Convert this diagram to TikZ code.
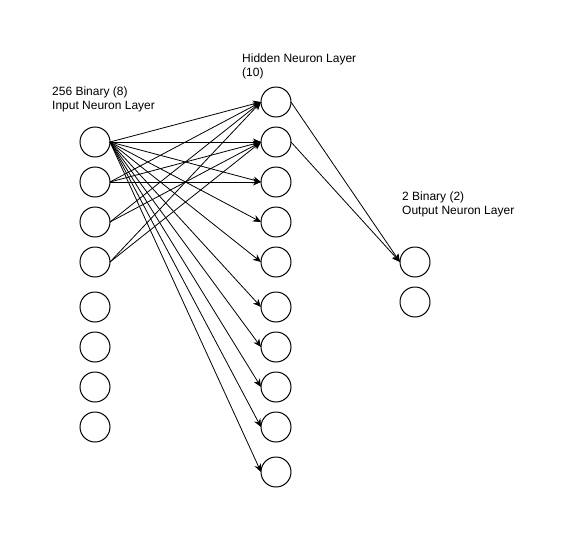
\documentclass[tikz,border=0pt]{standalone}
\usepackage{fontspec}
\setmainfont{Liberation Sans}
\usetikzlibrary{arrows.meta,positioning}

\begin{document}
\begin{tikzpicture}[x=1pt, y=-1pt, node distance=10pt,
  neuron/.style={draw,circle,line width=1pt,minimum size=30pt,inner sep=0pt,outer sep=0pt},
  layerLbl/.style={align=left,anchor=west,inner sep=0pt,font=\fontsize{12}{14}\selectfont},
  wire/.style={-{Stealth[length=8pt,width=7pt,inset=2.5pt]},line width=0.8pt}]
  \useasboundingbox (0,0) rectangle (581,538);
  % input layer
  \node[neuron] (in1) at (95,142) {};
  \node[neuron,below=of in1] (in2) {};
  \node[neuron,below=of in2] (in3) {};
  \node[neuron,below=of in3] (in4) {};
  \node[neuron,below=15pt of in4] (in5) {};
  \node[neuron,below=of in5] (in6) {};
  \node[neuron,below=of in6] (in7) {};
  \node[neuron,below=of in7] (in8) {};
  \node[layerLbl] (inLbl) at (52,99) {256 Binary (8)\\Input Neuron Layer};
  % hidden layer
  \node[neuron] (h1) at (276,102) {};
  \node[neuron,below=of h1] (h2) {};
  \node[neuron,below=of h2] (h3) {};
  \node[neuron,below=of h3] (h4) {};
  \node[neuron,below=of h4] (h5) {};
  \node[neuron,below=15pt of h5] (h6) {};
  \node[neuron,below=of h6] (h7) {};
  \node[neuron,below=of h7] (h8) {};
  \node[neuron,below=of h8] (h9) {};
  \node[neuron,below=15pt of h9] (h10) {};
  \node[layerLbl] (hLbl) at (242,66) {Hidden Neuron Layer\\(10)};
  % output layer
  \node[neuron] (o1) at (415,262) {};
  \node[neuron,below=of o1] (o2) {};
  \node[layerLbl] (oLbl) at (402,204) {2 Binary (2)\\Output Neuron Layer};
  % input -> hidden
  \draw[wire] (in1.east) -- (h1.west);
  \draw[wire] (in1.east) -- (h2.west);
  \draw[wire] (in1.east) -- (h3.west);
  \draw[wire] (in1.east) -- (h4.west);
  \draw[wire] (in1.east) -- (h5.west);
  \draw[wire] (in1.east) -- (h6.west);
  \draw[wire] (in1.east) -- (h7.west);
  \draw[wire] (in1.east) -- (h8.west);
  \draw[wire] (in1.east) -- (h9.west);
  \draw[wire] (in1.east) -- (h10.west);
  \draw[wire] (in2.east) -- (h1.west);
  \draw[wire] (in2.east) -- (h2.west);
  \draw[wire] (in2.east) -- (h3.west);
  \draw[wire] (in3.east) -- (h1.west);
  \draw[wire] (in3.east) -- (h2.west);
  \draw[wire] (in4.east) -- (h1.west);
  \draw[wire] (in4.east) -- (h2.west);
  % hidden -> output
  \draw[wire] (h1.east) -- (o1.west);
  \draw[wire] (h2.east) -- (o1.west);
\end{tikzpicture}
\end{document}
